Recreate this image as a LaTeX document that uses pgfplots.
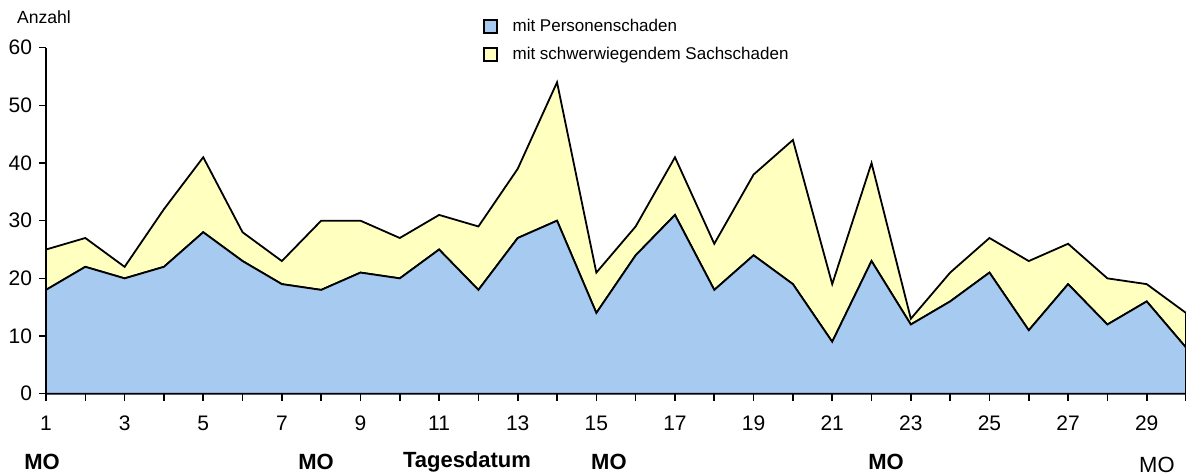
\documentclass[border=0pt]{standalone}
\usepackage{fontspec}
\setmainfont{Liberation Sans}
\usepackage{pgfplots}
\pgfplotsset{compat=1.18}
\definecolor{pblue}{RGB}{166,202,240}
\definecolor{pyellow}{RGB}{255,255,192}
\begin{document}
\begin{tikzpicture}
\begin{axis}[
  scale only axis,
  width=570pt, height=173pt,
  xmin=1, xmax=30, ymin=0, ymax=60,
  axis lines*=left,
  axis line style={black, line width=0.8pt},
  xtick={1,3,...,29},
  minor xtick={2,4,...,30},
  ytick={0,10,...,60},
  tick align=outside,
  major tick length=3.5pt, minor tick length=3.5pt,
  tick style={black, line width=0.8pt},
  /pgf/number format/assume math mode=true,
  ticklabel style={font=\fontsize{10.5}{12}\selectfont},
  xticklabel style={yshift=-4pt},
  stack plots=y,
  clip=false,
  legend style={at={(0.383,1)}, anchor=north west, yshift=16pt, draw=none, fill=none,
    font=\fontsize{8.5}{10}\selectfont, row sep=3.5pt, column sep=6pt, inner sep=0pt,
    nodes={inner sep=1.5pt}},
  legend cell align=left,
  legend image code/.code={\draw[#1,draw=black,line width=0.8pt] (0pt,-3pt) rectangle (6.5pt,3.5pt);},
]
\addplot[fill=pblue, draw=black, line width=0.9pt] coordinates {
(1,18) (2,22) (3,20) (4,22) (5,28) (6,23) (7,19) (8,18) (9,21) (10,20)
(11,25) (12,18) (13,27) (14,30) (15,14) (16,24) (17,31) (18,18) (19,24) (20,19)
(21,9) (22,23) (23,12) (24,16) (25,21) (26,11) (27,19) (28,12) (29,16) (30,8)
} \closedcycle;
\addlegendentry{mit Personenschaden}
\addplot[fill=pyellow, draw=black, line width=0.9pt] coordinates {
(1,7) (2,5) (3,2) (4,10) (5,13) (6,5) (7,4) (8,12) (9,9) (10,7)
(11,6) (12,11) (13,12) (14,24) (15,7) (16,5) (17,10) (18,8) (19,14) (20,25)
(21,10) (22,17) (23,1) (24,5) (25,6) (26,12) (27,7) (28,8) (29,3) (30,6)
} \closedcycle;
\addlegendentry{mit schwerwiegendem Sachschaden}
\node[anchor=west, xshift=-18pt, yshift=15pt, font=\fontsize{8.8}{10}\selectfont] at (rel axis cs:0,1) {Anzahl};
\node[yshift=-34pt, font=\fontsize{11}{13}\selectfont\bfseries] at (axis cs:0.9,0) {MO};
\node[yshift=-34pt, font=\fontsize{11}{13}\selectfont\bfseries] at (axis cs:7.87,0) {MO};
\node[yshift=-34pt, font=\fontsize{11}{13}\selectfont\bfseries] at (axis cs:11.71,0) {Tagesdatum};
\node[yshift=-34pt, font=\fontsize{11}{13}\selectfont\bfseries] at (axis cs:15.32,0) {MO};
\node[yshift=-34pt, font=\fontsize{11}{13}\selectfont\bfseries] at (axis cs:22.37,0) {MO};
\node[yshift=-35.5pt, font=\fontsize{11}{13}\selectfont] at (axis cs:29.26,0) {MO};
\end{axis}
\pgfresetboundingbox
\path ([xshift=-23pt,yshift=-40.65pt]current axis.south west) rectangle ([yshift=23.85pt]current axis.north east);
\end{tikzpicture}
\end{document}
